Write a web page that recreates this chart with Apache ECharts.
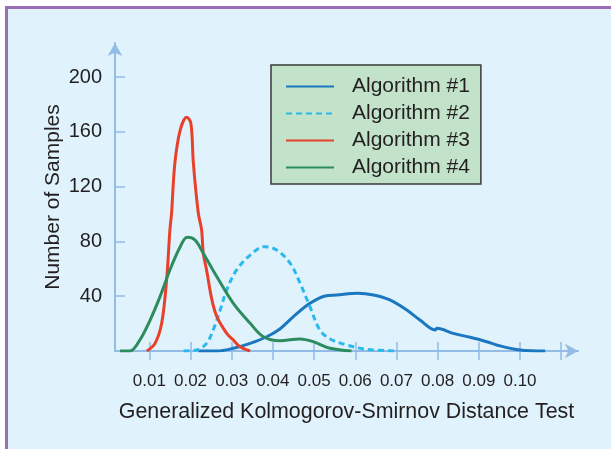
<!DOCTYPE html>
<html>
<head>
<meta charset="utf-8">
<script src="https://cdn.jsdelivr.net/npm/echarts@6/dist/echarts.min.js"></script>
<style>
  html, body { margin: 0; padding: 0; background: #fff; }
  #chart { width: 611px; height: 449px; }
</style>
</head>
<body>
<div id="chart"></div>
<script>
// [distance, samples]
const alg1 = [[0.0219, 0], [0.0264, 0], [0.0304, 2], [0.0345, 5.6], [0.0385, 10.4], [0.0417, 16.1],
  [0.0450, 25.1], [0.0490, 34.8], [0.0527, 40.2], [0.0555, 40.9], [0.0607, 42.1], [0.0644, 40.9],
  [0.0684, 37.3], [0.0725, 29.9], [0.0757, 22.6], [0.0794, 15.3], [0.0798, 16.6], [0.0838, 12.9],
  [0.0879, 10], [0.0919, 6.8], [0.0943, 4.4], [0.1000, 0.7], [0.1061, 0]]
const alg2 = [[0.0183, 0], [0.0215, 0.7], [0.0239, 5.6], [0.0255, 15.3], [0.0272, 29.9], [0.0288, 44.6],
  [0.0312, 59.2], [0.0345, 70.1], [0.0379, 76.2], [0.0409, 73.8], [0.0442, 64.1], [0.0466, 49.5],
  [0.0490, 32.4], [0.0514, 15.3], [0.0539, 8.8], [0.0579, 4.4], [0.0628, 1.2], [0.0701, 0]]
const alg3 = [[0.0094, 0], [0.0114, 5.6], [0.0130, 20.2], [0.0142, 51.9], [0.0150, 88.4], [0.0154, 100.6],
  [0.0162, 137.1], [0.0175, 161.4], [0.0191, 170.7], [0.0201, 166.3], [0.0207, 137.1], [0.0219, 100.6],
  [0.0227, 88.4], [0.0231, 71.4], [0.0239, 59.2], [0.0252, 37.3], [0.0264, 25.1], [0.0288, 12.9],
  [0.0304, 8], [0.0320, 3.1], [0.0345, 0]]
const alg4 = [[0.0029, 0], [0.0053, 0], [0.0077, 8], [0.0102, 22.6], [0.0126, 39.7], [0.0150, 59.2],
  [0.0175, 76.2], [0.0192, 83.1], [0.0211, 81.1], [0.0231, 71.4], [0.0264, 54.3], [0.0304, 34.8],
  [0.0345, 20.2], [0.0377, 10.4], [0.0417, 7.5], [0.0466, 8.8], [0.0498, 6.8], [0.0539, 2], [0.0591, 0]]

const seriesNames = ['Algorithm #1', 'Algorithm #2', 'Algorithm #3', 'Algorithm #4']
const yTicks = [40, 80, 120, 160, 200]
const xTicks = [0.01, 0.02, 0.03, 0.04, 0.05, 0.06, 0.07, 0.08, 0.09, 0.10, 0.11]
const xLabels = ['0.01', '0.02', '0.03', '0.04', '0.05', '0.06', '0.07', '0.08', '0.09', '0.10']

const font = 'Liberation Sans, Arial, Helvetica, sans-serif'
const ink = '#231f20'
const axisBlue = '#92bbe6'
const xMin = 0.00167
const xMax = 0.11408
const gridBox = { left: 115, right: 33, top: 43, bottom: 98 }

function line(name, data, color, type) {
  return {
    name: name,
    type: 'line',
    data: data,
    symbol: 'none',
    smooth: 0.35,
    lineStyle: { color: color, width: 3, type: type || 'solid' },
    itemStyle: { color: color }
  }
}

const chart = echarts.init(document.getElementById('chart'))
chart.setOption({
  animation: false,
  backgroundColor: '#ffffff',
  textStyle: { fontFamily: font },
  graphic: [
    { type: 'rect', z: -10, shape: { x: 5, y: 6, width: 606, height: 443 }, style: { fill: '#e0f2fc' } },
    { type: 'rect', z: -9, shape: { x: 5, y: 6, width: 606, height: 3 }, style: { fill: '#9a6db4' } },
    { type: 'rect', z: -9, shape: { x: 5, y: 6, width: 3, height: 443 }, style: { fill: '#9a6db4' } }
  ],
  // second grid only carries the upward half of the x ticks
  grid: [Object.assign({}, gridBox), Object.assign({}, gridBox)],
  legend: {
    data: seriesNames,
    orient: 'vertical',
    left: 271,
    top: 65,
    width: 209,
    itemWidth: 48,
    itemHeight: 14,
    itemGap: 6,
    padding: [11, 11, 6, 14],
    backgroundColor: '#c2e3c9',
    borderColor: '#3a3a3a',
    borderWidth: 1.5,
    itemStyle: { opacity: 0 },
    textStyle: { fontSize: 21, color: ink, fontFamily: font, padding: [0, 0, 0, 13], lineHeight: 20 }
  },
  xAxis: [
    {
      type: 'value',
      gridIndex: 0,
      min: xMin,
      max: xMax,
      name: 'Generalized Kolmogorov-Smirnov Distance Test',
      nameLocation: 'middle',
      nameGap: 51,
      nameTextStyle: { fontSize: 21.4, color: ink },
      splitLine: { show: false },
      axisLine: { show: true, lineStyle: { color: axisBlue, width: 2 }, symbol: ['none', 'arrow'], symbolSize: [11, 13] },
      axisTick: { show: true, length: 9, lineStyle: { color: axisBlue, width: 1.5 }, customValues: xTicks },
      axisLabel: {
        fontSize: 17, color: ink, margin: 22, customValues: xTicks.slice(0, 10),
        formatter: function (v) { return xLabels[Math.round(v * 100) - 1] }
      }
    },
    {
      type: 'value',
      gridIndex: 1,
      min: xMin,
      max: xMax,
      splitLine: { show: false },
      axisLine: { show: false },
      axisTick: { show: true, inside: true, length: 9, lineStyle: { color: axisBlue, width: 1.5 }, customValues: xTicks },
      axisLabel: { show: false }
    }
  ],
  yAxis: [
    {
      type: 'value',
      gridIndex: 0,
      min: 0,
      max: 225,
      name: 'Number of Samples',
      nameLocation: 'middle',
      nameGap: 51,
      nameMoveOverlap: false,
      nameTextStyle: { fontSize: 21, color: ink },
      splitLine: { show: false },
      axisLine: { show: true, lineStyle: { color: axisBlue, width: 2 }, symbol: ['none', 'arrow'], symbolSize: [11, 13] },
      axisTick: { show: true, inside: true, length: 10, lineStyle: { color: axisBlue, width: 1.5 }, customValues: yTicks },
      axisLabel: { fontSize: 20, color: ink, margin: 13, customValues: yTicks }
    },
    {
      type: 'value',
      gridIndex: 1,
      min: 0,
      max: 225,
      show: false
    }
  ],
  series: [
    line(seriesNames[0], alg1, '#1b77c0'),
    line(seriesNames[1], alg2, '#2bb8ea', [6, 4]),
    line(seriesNames[2], alg3, '#e8402b'),
    line(seriesNames[3], alg4, '#2d8c5e')
  ]
})
</script>
</body>
</html>
